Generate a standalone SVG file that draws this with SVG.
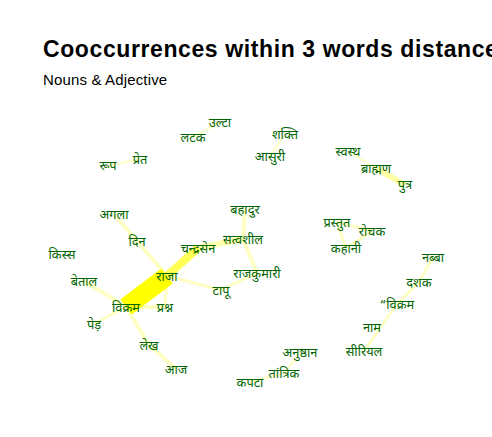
<svg xmlns="http://www.w3.org/2000/svg" width="492" height="437" viewBox="0 0 492 437">
<style>
.t{font-family:"Liberation Sans",Arial,sans-serif;fill:#000}
.n text{font-family:"Noto Sans Devanagari","Noto Sans","Lohit Devanagari",sans-serif;font-size:12.8px;fill:#006400;text-anchor:middle}
.e line{stroke:#ffffc4;stroke-linecap:butt}
.w2{stroke-width:2}
.w3{stroke-width:3}
.w4{stroke-width:4}
.w6{stroke-width:6}
</style>
<rect width="492" height="437" fill="#fff"/>
<text class="t" x="43" y="57" font-size="23" font-weight="bold" letter-spacing="0.6">Cooccurrences within 3 words distance</text>
<text class="t" x="43" y="85" font-size="15" letter-spacing="0.15">Nouns &amp; Adjective</text>
<g id="connectors" class="e">
<line class="w2" x1="193" y1="137" x2="220" y2="122"/>
<line class="w2" x1="108" y1="166" x2="140" y2="159"/>
<line class="w2" x1="285" y1="134" x2="270" y2="156"/>
<line class="w2" x1="348" y1="151" x2="376" y2="168"/>
<line class="w6" x1="376" y1="168" x2="405" y2="185" style="stroke:#ffffa8"/>
<line class="w3" x1="337" y1="222" x2="372" y2="231"/>
<line class="w3" x1="337" y1="222" x2="346" y2="248"/>
<line class="w3" x1="372" y1="231" x2="346" y2="248"/>
<line class="w3" x1="433" y1="257" x2="419" y2="282"/>
<line class="w3" x1="419" y1="282" x2="397" y2="304"/>
<line class="w3" x1="397" y1="304" x2="364" y2="351"/>
<line class="w2" x1="300" y1="352" x2="284" y2="373"/>
<line class="w2" x1="284" y1="373" x2="250" y2="382"/>
<line class="w4" x1="114" y1="214" x2="137" y2="241"/>
<line class="w4" x1="137" y1="241" x2="167" y2="276"/>
<line class="w4" x1="245" y1="209" x2="243" y2="239"/>
<line class="w4" x1="243" y1="239" x2="257" y2="273"/>
<line class="w6" x1="198" y1="248" x2="243" y2="239" style="stroke:#ffffb0"/>
<line class="w3" x1="167" y1="276" x2="221" y2="290"/>
<line class="w3" x1="221" y1="290" x2="257" y2="273"/>
<line class="w3" x1="167" y1="276" x2="165" y2="307"/>
<line class="w4" x1="126" y1="307" x2="165" y2="307"/>
<line class="w4" x1="84" y1="281" x2="126" y2="307"/>
<line class="w3" x1="126" y1="307" x2="94" y2="324"/>
<line class="w4" x1="126" y1="307" x2="149" y2="345"/>
<line class="w4" x1="149" y1="345" x2="176" y2="369"/>
<line x1="167" y1="276" x2="198" y2="248" style="stroke:#ffff55;stroke-width:8"/>
<line x1="126" y1="307" x2="167" y2="276" style="stroke:#ffff00;stroke-width:19"/>
</g>
<g class="n">
<g id="n-ulta"><text x="220" y="127">उल्टा</text></g>
<g id="n-latak"><text x="193" y="142">लटक</text></g>
<g id="n-shakti"><text x="285" y="139">शक्ति</text></g>
<g id="n-asuri"><text x="270" y="161">आसुरी</text></g>
<g id="n-roop"><text x="108" y="170">रूप</text></g>
<g id="n-pret"><text x="140" y="164">प्रेत</text></g>
<g id="n-swasth"><text x="348" y="156">स्वस्थ</text></g>
<g id="n-brahman"><text x="376" y="173">ब्राह्मण</text></g>
<g id="n-putra"><text x="405" y="189">पुत्र</text></g>
<g id="n-bahadur"><text x="245" y="214">बहादुर</text></g>
<g id="n-agla"><text x="114" y="219">अगला</text></g>
<g id="n-prastut"><text x="337" y="227">प्रस्तुत</text></g>
<g id="n-rochak"><text x="372" y="236">रोचक</text></g>
<g id="n-satvasheel"><text x="243" y="244">सत्वशील</text></g>
<g id="n-din"><text x="137" y="246">दिन</text></g>
<g id="n-chandrasen"><text x="198" y="253">चन्द्रसेन</text></g>
<g id="n-kahani"><text x="346" y="253">कहानी</text></g>
<g id="n-kiss"><text x="62" y="259">किस्स</text></g>
<g id="n-nabba"><text x="433" y="262">नब्बा</text></g>
<g id="n-raja"><text x="167" y="281">राजा</text></g>
<g id="n-rajkumari"><text x="257" y="278">राजकुमारी</text></g>
<g id="n-betal"><text x="84" y="286">बेताल</text></g>
<g id="n-dashak"><text x="419" y="287">दशक</text></g>
<g id="n-tapu"><text x="221" y="295">टापू</text></g>
<g id="n-vikram"><text x="126" y="312">विक्रम</text></g>
<g id="n-prashna"><text x="165" y="312">प्रश्न</text></g>
<g id="n-vikram2"><text x="397" y="309">“विक्रम</text></g>
<g id="n-ped"><text x="94" y="329">पेड़</text></g>
<g id="n-naam"><text x="372" y="332">नाम</text></g>
<g id="n-lekh"><text x="149" y="350">लेख</text></g>
<g id="n-anushthan"><text x="300" y="357">अनुष्ठान</text></g>
<g id="n-serial"><text x="364" y="356">सीरियल</text></g>
<g id="n-aaj"><text x="176" y="374">आज</text></g>
<g id="n-tantrik"><text x="284" y="378">तांत्रिक</text></g>
<g id="n-kapta"><text x="250" y="387">कपटा</text></g>
</g>
</svg>
